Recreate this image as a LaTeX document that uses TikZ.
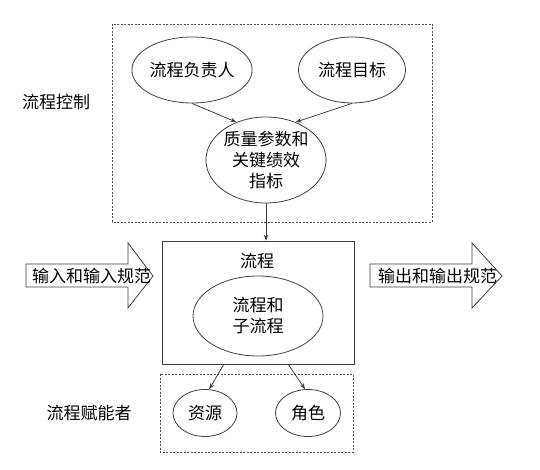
\documentclass[tikz,border=0pt]{standalone}
\usepackage{fontspec}
\setmainfont{Noto Sans CJK SC}
\usetikzlibrary{shapes.geometric,arrows.meta}
\begin{document}
\begin{tikzpicture}[x=1pt,y=-1pt,
  line/.style={draw=black!75,line width=0.8pt},
  ell/.style={line,ellipse,inner sep=0pt,align=center,font=\fontsize{17}{21}\selectfont},
  lbl/.style={font=\fontsize{17}{21}\selectfont,inner sep=0pt},
  arr/.style={line,-{Stealth[length=6pt,width=4.5pt]}},
  dbox/.style={draw=black!70,line width=0.7pt,dash pattern=on 2pt off 1.5pt},
  bigarrow/.style={line,fill=white}
]
\useasboundingbox (0,0) rectangle (540,470);
% top dashed box
\draw[dbox] (112,24) rectangle (432,222);
\node[ell,minimum width=107pt,minimum height=66pt] (owner) at (192,70) {流程负责人};
\node[ell,minimum width=107pt,minimum height=66pt] (goal) at (352,70) {流程目标};
\node[ell,minimum width=116pt,minimum height=86pt] (kpi) at (266,160) {质量参数和\\关键绩效\\指标};
\node[lbl,anchor=west] (ctrl) at (22,102) {流程控制};
\draw[arr] (owner.south) -- (kpi.128);
\draw[arr] (goal.south) -- (kpi.52);
% process box
\node[line,rectangle,minimum width=192pt,minimum height=123pt,inner sep=0pt] (proc) at (258,302.5) {};
\node[lbl] (proclbl) at (257,261) {流程};
\node[ell,minimum width=130pt,minimum height=80pt] (sub) at (258,316) {流程和\\子流程};
\draw[arr] (kpi.south) -- (proc.north -| kpi.south);
% big arrows
\draw[bigarrow] (26,264) -- (128,264) -- (128,243) -- (153,276) -- (128,308) -- (128,287) -- (26,287) -- cycle;
\node[lbl,anchor=west] (inlbl) at (32,276) {输入和输入规范};
\draw[bigarrow] (370,264) -- (472,264) -- (472,243) -- (502,276) -- (472,308) -- (472,287) -- (370,287) -- cycle;
\node[lbl,anchor=west] (outlbl) at (378,276) {输出和输出规范};
% bottom dashed box
\draw[dbox] (160,374) rectangle (353,452);
\node[ell,minimum width=64pt,minimum height=47pt] (res) at (205,413) {资源};
\node[ell,minimum width=65pt,minimum height=47pt] (role) at (308,413) {角色};
\node[lbl] (enab) at (89,413) {流程赋能者};
\coordinate (p1) at (224,364);
\coordinate (p2) at (288,364);
\draw[arr] (p1) -- (res.80);
\draw[arr] (p2) -- (role.97);
\end{tikzpicture}
\end{document}
